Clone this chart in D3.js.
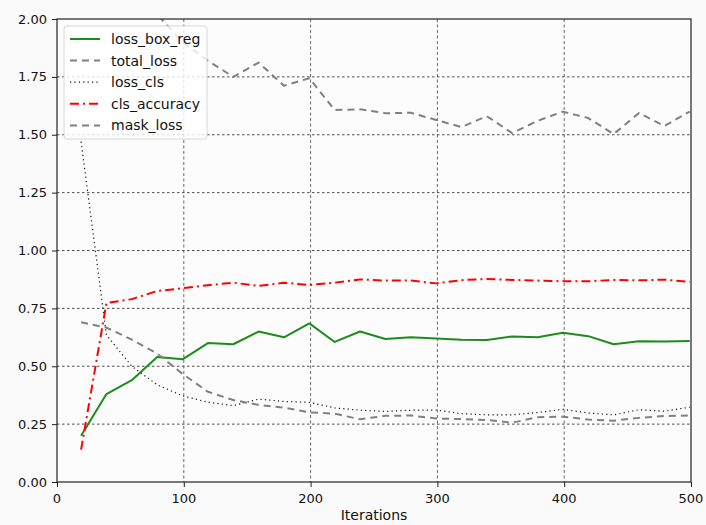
<!DOCTYPE html>
<html>
<head>
<meta charset="utf-8">
<script src="https://cdn.jsdelivr.net/npm/d3@7"></script>
<style>
  html, body { margin: 0; padding: 0; background: #fafafa; overflow: hidden; }
  #chart { width: 706px; height: 525px; }
  text { font-family: "DejaVu Sans", sans-serif; fill: #111; }
</style>
</head>
<body>
<div id="chart"></div>
<script>
// ----------------------------------------------------------
// Data
// ----------------------------------------------------------
const iterations = [19, 39, 59, 79, 99, 119, 139, 159, 179, 199, 219, 239, 259,
                    279, 299, 319, 339, 359, 379, 399, 419, 439, 459, 479, 499];

const lossBoxReg = [0.20, 0.38, 0.44, 0.54, 0.53, 0.60, 0.595, 0.65, 0.625, 0.685, 0.605, 0.65, 0.618,
                    0.625, 0.62, 0.615, 0.613, 0.629, 0.625, 0.645, 0.63, 0.595, 0.608, 0.607, 0.609];

const totalLoss = [3.30, 2.50, 2.20, 2.02, 1.90, 1.82, 1.75, 1.812, 1.712, 1.744, 1.607, 1.61, 1.593,
                   1.595, 1.564, 1.533, 1.58, 1.507, 1.56, 1.60, 1.572, 1.503, 1.594, 1.538, 1.60];

const lossCls = [1.47, 0.635, 0.50, 0.42, 0.372, 0.345, 0.33, 0.358, 0.348, 0.344, 0.32, 0.31, 0.305,
                 0.31, 0.311, 0.295, 0.29, 0.29, 0.30, 0.314, 0.298, 0.29, 0.312, 0.306, 0.323];

const clsAccuracy = [0.14, 0.773, 0.79, 0.825, 0.837, 0.85, 0.861, 0.847, 0.861, 0.851, 0.861, 0.875, 0.87,
                     0.87, 0.858, 0.872, 0.877, 0.873, 0.87, 0.867, 0.867, 0.873, 0.871, 0.874, 0.865];

const maskLoss = [0.69, 0.667, 0.615, 0.555, 0.467, 0.39, 0.354, 0.333, 0.321, 0.301, 0.295, 0.271, 0.286,
                  0.287, 0.274, 0.272, 0.268, 0.256, 0.28, 0.282, 0.27, 0.265, 0.277, 0.285, 0.287];

const xTicks = [0, 100, 200, 300, 400, 500];
const yTicks = [0, 0.25, 0.5, 0.75, 1.0, 1.25, 1.5, 1.75, 2.0];

const series = [
  { name: "loss_box_reg", values: lossBoxReg,  color: "#1c8c1c", width: 2,   dash: null },
  { name: "total_loss",   values: totalLoss,   color: "#808080", width: 2,   dash: "7,5" },
  { name: "loss_cls",     values: lossCls,     color: "#111111", width: 1.2, dash: "1.2,3.2" },
  { name: "cls_accuracy", values: clsAccuracy, color: "#ff0000", width: 2,   dash: "9,4,2,4" },
  { name: "mask_loss",    values: maskLoss,    color: "#808080", width: 2,   dash: "7,5" }
];

// ----------------------------------------------------------
// Layout
// ----------------------------------------------------------
const width = 706, height = 525;
const margin = { top: 19, right: 15, bottom: 43, left: 57 };
const innerWidth  = width - margin.left - margin.right;
const innerHeight = height - margin.top - margin.bottom;

const svg = d3.select("#chart")
  .append("svg")
  .attr("width", width)
  .attr("height", height)
  .style("display", "block");

// scales in absolute svg pixels, so texts need no group transforms
const x = d3.scaleLinear().domain([0, 500]).range([margin.left, margin.left + innerWidth]);
const y = d3.scaleLinear().domain([0, 2]).range([margin.top + innerHeight, margin.top]);

svg.append("rect")
  .attr("x", margin.left).attr("y", margin.top)
  .attr("width", innerWidth)
  .attr("height", innerHeight)
  .attr("fill", "#fcfcfc");

// ----------------------------------------------------------
// Grid
// ----------------------------------------------------------
svg.append("g")
  .selectAll("line")
  .data(yTicks.slice(1, -1))
  .join("line")
  .attr("x1", x(0)).attr("x2", x(500))
  .attr("y1", d => y(d)).attr("y2", d => y(d))
  .attr("stroke", "#222")
  .attr("stroke-width", 0.8)
  .attr("stroke-dasharray", "2.5,2.5");

svg.append("g")
  .selectAll("line")
  .data(xTicks.slice(1, -1))
  .join("line")
  .attr("x1", d => x(d)).attr("x2", d => x(d))
  .attr("y1", y(2)).attr("y2", y(0))
  .attr("stroke", "#444")
  .attr("stroke-width", 0.8)
  .attr("stroke-dasharray", "3,2.5");

// ----------------------------------------------------------
// Lines (clipped to the plot area)
// ----------------------------------------------------------
svg.append("clipPath")
  .attr("id", "plot-clip")
  .append("rect")
  .attr("x", margin.left).attr("y", margin.top)
  .attr("width", innerWidth)
  .attr("height", innerHeight);

const line = d3.line()
  .x((d, i) => x(iterations[i]))
  .y(d => y(d));

svg.append("g")
  .attr("clip-path", "url(#plot-clip)")
  .selectAll("path")
  .data(series)
  .join("path")
  .attr("fill", "none")
  .attr("stroke", d => d.color)
  .attr("stroke-width", d => d.width)
  .attr("stroke-dasharray", d => d.dash)
  .attr("stroke-linejoin", "round")
  .attr("d", d => line(d.values));

// ----------------------------------------------------------
// Frame + axes (tick marks from d3.axis, labels placed directly)
// ----------------------------------------------------------
svg.append("rect")
  .attr("x", margin.left).attr("y", margin.top)
  .attr("width", innerWidth)
  .attr("height", innerHeight)
  .attr("fill", "none")
  .attr("stroke", "#222")
  .attr("stroke-width", 1.2);

const yAxis = svg.append("g")
  .attr("transform", `translate(${margin.left},0)`)
  .call(d3.axisLeft(y).tickValues(yTicks).tickFormat("").tickSize(5));

const xAxis = svg.append("g")
  .attr("transform", `translate(0,${margin.top + innerHeight})`)
  .call(d3.axisBottom(x).tickValues(xTicks).tickFormat("").tickSize(5));

[yAxis, xAxis].forEach(a => {
  a.select(".domain").remove();
  a.selectAll(".tick line").attr("stroke", "#222");
  a.selectAll(".tick text").remove();
});

svg.append("g")
  .selectAll("text")
  .data(yTicks)
  .join("text")
  .attr("x", margin.left - 10)
  .attr("y", d => y(d) + 4.5)
  .attr("text-anchor", "end")
  .attr("font-size", 13)
  .text(d3.format(".2f"));

svg.append("g")
  .selectAll("text")
  .data(xTicks)
  .join("text")
  .attr("x", d => x(d))
  .attr("y", margin.top + innerHeight + 21)
  .attr("text-anchor", "middle")
  .attr("font-size", 13)
  .text(d => d);

svg.append("text")
  .attr("x", margin.left + innerWidth / 2)
  .attr("y", margin.top + innerHeight + 38)
  .attr("text-anchor", "middle")
  .attr("font-size", 14)
  .text("Iterations");

// ----------------------------------------------------------
// Legend
// ----------------------------------------------------------
const legendX = 64, legendY = 26, rowGap = 21.6;

svg.append("rect")
  .attr("x", legendX).attr("y", legendY)
  .attr("width", 143)
  .attr("height", 113)
  .attr("rx", 3)
  .attr("fill", "#ffffff")
  .attr("fill-opacity", 0.8)
  .attr("stroke", "#d6d6d6");

svg.append("g")
  .selectAll("line")
  .data(series)
  .join("line")
  .attr("x1", legendX + 6).attr("x2", legendX + 36)
  .attr("y1", (d, i) => legendY + 13 + i * rowGap)
  .attr("y2", (d, i) => legendY + 13 + i * rowGap)
  .attr("stroke", d => d.color)
  .attr("stroke-width", d => d.width)
  .attr("stroke-dasharray", d => d.dash);

svg.append("g")
  .selectAll("text")
  .data(series)
  .join("text")
  .attr("x", legendX + 47)
  .attr("y", (d, i) => legendY + 13 + i * rowGap + 5)
  .attr("font-size", 14)
  .text(d => d.name);
</script>
</body>
</html>
